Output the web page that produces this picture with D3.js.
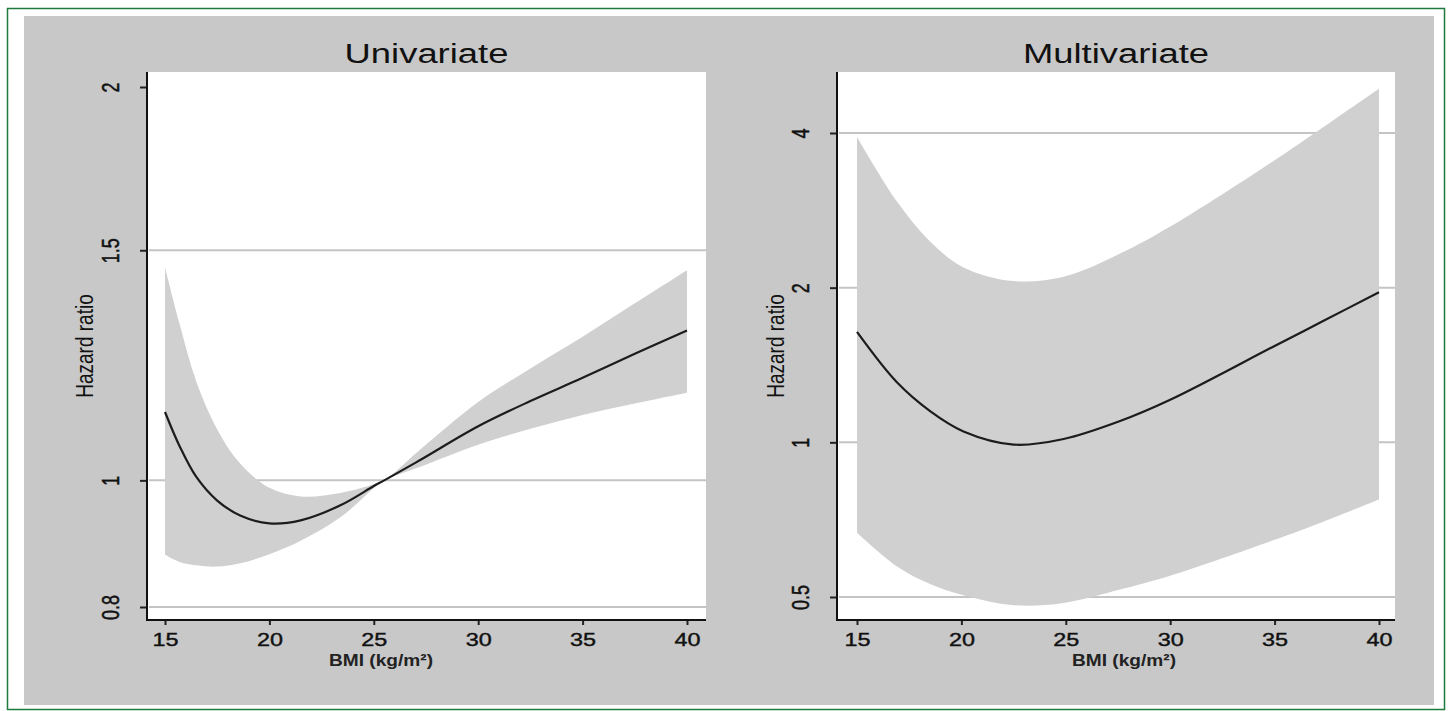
<!DOCTYPE html>
<html>
<head>
<meta charset="utf-8">
<script src="https://cdn.jsdelivr.net/npm/d3@7"></script>
<style>
body { margin: 0; background: #fff; }
svg { display: block; font-family: "Liberation Sans", Arial, sans-serif; }
</style>
</head>
<body>
<div id="chart"></div>
<script>
const width = 1448;
const height = 711;

// x axis ticks (BMI)
const bmiTicks = [15, 20, 25, 30, 35, 40];

// univariate panel
const uniTicks = [0.8, 1, 1.5, 2];
const uniGrid = [0.8, 1, 1.5];
const uniBmi = [15, 15.7, 16.5, 17.5, 18.6, 20, 21.5, 23.4, 25, 25.5, 27.2, 30, 32.5, 35, 37.5, 40];
const uniHr = [1.128, 1.062, 1.006, 0.965, 0.94, 0.927, 0.932, 0.957, 0.99, 1.0, 1.036, 1.1, 1.15, 1.198, 1.25, 1.302];
const uniUpper = [1.456, 1.317, 1.19, 1.094, 1.03, 0.987, 0.972, 0.978, 0.993, 1.0, 1.055, 1.148, 1.218, 1.288, 1.366, 1.448];
const uniLower = [0.877, 0.866, 0.861, 0.859, 0.864, 0.878, 0.899, 0.937, 0.986, 1.0, 1.024, 1.065, 1.095, 1.122, 1.145, 1.167];

// multivariate panel
const multTicks = [0.5, 1, 2, 4];
const multGrid = [0.5, 1, 2, 4];
const multBmi = [15, 16.9, 18.5, 20.1, 22.5, 24.9, 27.6, 30, 35, 37.3, 40];
const multHr = [1.64, 1.31, 1.15, 1.05, 0.99, 1.015, 1.1, 1.21, 1.54, 1.72, 1.96];
const multUpper = [3.93, 2.95, 2.46, 2.19, 2.06, 2.1, 2.33, 2.63, 3.54, 4.1, 4.88];
const multLower = [0.667, 0.574, 0.53, 0.504, 0.482, 0.487, 0.517, 0.55, 0.646, 0.70, 0.774];

const PLOT_TOP = 72;
const PLOT_BOTTOM = 620;
const STRETCH = 1.3; // the original picture is stretched horizontally

const panels = [
	{
		title: "Univariate", bmi: uniBmi, hr: uniHr, hi: uniUpper, lo: uniLower,
		ticks: uniTicks, grid: uniGrid, yDomain: [0.8, 2], yRange: [607, 87],
		left: 147, right: 706, xRange: [165, 687], yLabelX: 84, xLabelX: 381,
	},
	{
		title: "Multivariate", bmi: multBmi, hr: multHr, hi: multUpper, lo: multLower,
		ticks: multTicks, grid: multGrid, yDomain: [0.5, 4], yRange: [597, 133],
		left: 837, right: 1395, xRange: [857, 1379], yLabelX: 775, xLabelX: 1124,
	},
];

const svg = d3
	.select("#chart")
	.append("svg")
	.attr("width", width)
	.attr("height", height);

// page frame
svg.append("rect")
	.attr("x", 7.5).attr("y", 8.5)
	.attr("width", 1437).attr("height", 701)
	.attr("fill", "#fff")
	.attr("stroke", "#1f7a3e")
	.attr("stroke-width", 1.5);

svg.append("rect")
	.attr("x", 24).attr("y", 16)
	.attr("width", 1410).attr("height", 689)
	.attr("fill", "#c8c8c8");

panels.forEach((p) => {
	const x = d3.scaleLinear().domain([15, 40]).range(p.xRange);
	const y = d3.scaleLog().domain(p.yDomain).range(p.yRange);
	const g = svg.append("g");

	g.append("rect")
		.attr("x", p.left).attr("y", PLOT_TOP)
		.attr("width", p.right - p.left).attr("height", PLOT_BOTTOM - PLOT_TOP)
		.attr("fill", "#fff");

	g.selectAll(".grid")
		.data(p.grid)
		.join("line")
		.attr("class", "grid")
		.attr("x1", p.left + 2).attr("x2", p.right)
		.attr("y1", (d) => y(d)).attr("y2", (d) => y(d))
		.attr("stroke", "#c4c4c4")
		.attr("stroke-width", 2);

	const rows = p.bmi.map((b, i) => ({ b: b, hr: p.hr[i], lo: p.lo[i], hi: p.hi[i] }));

	const area = d3.area()
		.x((d) => x(d.b))
		.y0((d) => y(d.lo))
		.y1((d) => y(d.hi))
		.curve(d3.curveCatmullRom.alpha(0.5));

	const line = d3.line()
		.x((d) => x(d.b))
		.y((d) => y(d.hr))
		.curve(d3.curveCatmullRom.alpha(0.5));

	g.append("path").datum(rows).attr("d", area).attr("fill", "#d0d0d0");
	g.append("path").datum(rows).attr("d", line)
		.attr("fill", "none").attr("stroke", "#1c1c1c").attr("stroke-width", 2.2);

	// axes
	const xAxis = g.append("g")
		.attr("transform", `translate(0,${PLOT_BOTTOM})`)
		.call(d3.axisBottom(x).tickValues(bmiTicks).tickSize(5).tickFormat(d3.format("d")));
	xAxis.select(".domain").remove();
	xAxis.selectAll("line").attr("stroke", "#222").attr("stroke-width", 2);
	xAxis.selectAll("text")
		.attr("y", 0).attr("dy", 0)
		.attr("transform", `translate(0,26) scale(${STRETCH},1)`)
		.attr("font-size", 18)
		.attr("stroke", "#111").attr("stroke-width", 0.4)
		.attr("fill", "#111");

	const yAxis = g.append("g")
		.attr("transform", `translate(${p.left},0)`)
		.call(d3.axisLeft(y).tickValues(p.ticks).tickSize(7).tickFormat((d) => d));
	yAxis.select(".domain").remove();
	yAxis.selectAll("line").attr("stroke", "#222").attr("stroke-width", 2);
	yAxis.selectAll("text")
		.attr("x", 0).attr("dy", "0.35em")
		.attr("text-anchor", "middle")
		.attr("transform", `translate(-36,0) scale(${STRETCH},1) rotate(-90)`)
		.attr("font-size", 18)
		.attr("stroke", "#111").attr("stroke-width", 0.4)
		.attr("fill", "#111");

	g.append("line")
		.attr("x1", p.left).attr("x2", p.left)
		.attr("y1", PLOT_TOP).attr("y2", PLOT_BOTTOM + 1)
		.attr("stroke", "#111").attr("stroke-width", 2);
	g.append("line")
		.attr("x1", p.left).attr("x2", p.right)
		.attr("y1", PLOT_BOTTOM).attr("y2", PLOT_BOTTOM)
		.attr("stroke", "#111").attr("stroke-width", 2);

	// titles and labels
	g.append("text")
		.attr("transform", `translate(${(p.left + p.right) / 2},63) scale(${STRETCH},1)`)
		.attr("text-anchor", "middle")
		.attr("font-size", 28)
		.attr("fill", "#111")
		.text(p.title);

	g.append("text")
		.attr("transform", `translate(${p.yLabelX},346) scale(${STRETCH},1) rotate(-90)`)
		.attr("text-anchor", "middle")
		.attr("dy", "0.35em")
		.attr("font-size", 19)
		.attr("fill", "#111")
		.text("Hazard ratio");

	g.append("text")
		.attr("x", p.xLabelX).attr("y", 666)
		.attr("text-anchor", "middle")
		.attr("font-size", 17)
		.attr("font-weight", "bold")
		.attr("fill", "#222")
		.attr("textLength", 104)
		.attr("lengthAdjust", "spacingAndGlyphs")
		.text("BMI (kg/m²)");
});
</script>
</body>
</html>
